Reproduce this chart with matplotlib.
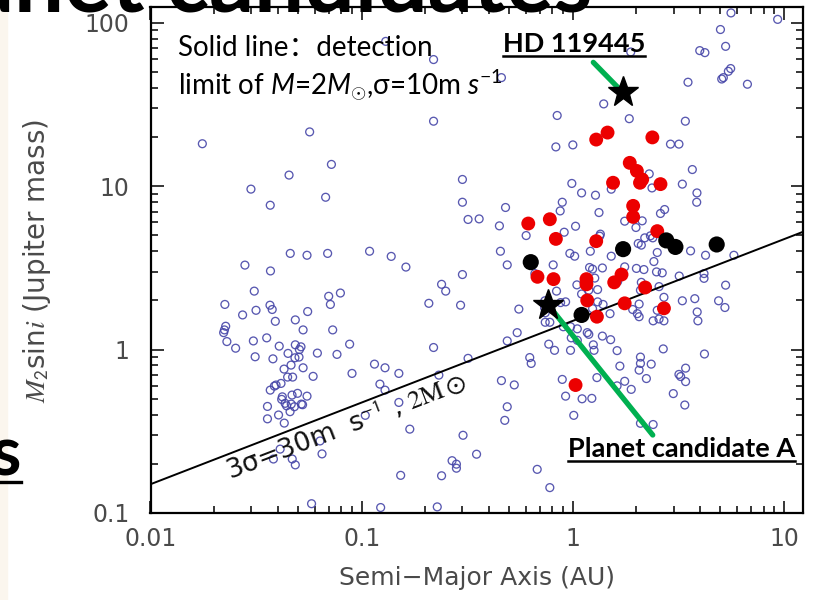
import matplotlib
matplotlib.use('Agg')
import matplotlib.pyplot as plt
from matplotlib.lines import Line2D
from matplotlib.patches import Rectangle
from matplotlib.ticker import FuncFormatter, NullFormatter, LogLocator

# open blue circles: known companions (semi-major axis in AU, M2 sin i in Jupiter masses)
blue_a = [0.0176, 0.0567, 0.0719, 0.0453, 0.0299, 0.0369, 0.0675, 0.0459, 0.0551, 0.069,
          0.109, 0.13, 0.219, 0.459, 0.219, 0.843, 0.831, 1.0, 0.30, 0.989,
          1.10, 0.30, 0.48, 0.891, 0.871, 0.319, 0.36, 0.449, 0.601, 1.03,
          0.91, 0.138, 0.454, 0.968, 1.02, 5.61, 9.33, 5.0, 5.29, 3.99,
          4.22, 1.88, 5.59, 5.45, 5.16, 5.07, 6.71, 3.51, 1.40, 1.85,
          3.41, 2.90, 3.18, 3.68, 2.30, 3.30, 2.37, 1.52, 3.87, 3.86,
          1.28, 1.33, 2.72, 2.60, 1.76, 2.13, 1.99, 1.35, 1.34, 2.19,
          2.33, 2.39, 2.04, 2.11, 1.21, 1.52, 2.51, 3.61, 4.25, 5.79,
          0.489, 1.20, 1.24, 1.38, 1.76, 2.00, 2.17, 2.42, 2.49, 2.65,
          3.19, 4.18, 4.18, 5.29, 0.807, 0.661, 1.10, 1.045, 1.27, 1.31,
          1.63, 2.11, 2.56, 2.09, 2.70, 3.30, 3.78, 3.88, 3.91, 4.90,
          5.25, 0.555, 0.737, 0.735, 0.74, 0.74, 0.778, 0.837, 0.924, 0.875,
          1.19, 1.31, 1.39, 1.24, 1.50, 2.06, 1.92, 2.02, 2.06, 2.40,
          2.70, 2.56, 2.51, 0.901, 0.975, 1.05, 1.17, 1.19, 0.545, 0.489,
          0.983, 1.05, 1.38, 1.51, 1.25, 1.26, 0.769, 0.819, 0.975, 1.62,
          2.68, 4.20, 0.625, 0.635, 2.09, 2.09, 2.06, 2.35, 1.67, 1.30,
          2.23, 3.18, 3.24, 3.42, 3.42, 0.891, 0.459, 0.528, 1.76, 1.62,
          1.89, 2.99, 3.39, 0.924, 1.106, 1.23, 0.489, 0.476, 1.01, 2.09,
          2.40, 0.162, 0.30, 0.239, 0.25, 0.208, 0.294, 0.219, 0.319, 0.115,
          0.129, 0.150, 0.232, 0.122, 0.129, 0.150, 0.169, 0.302, 0.35, 0.268,
          0.281, 0.281, 0.153, 0.239, 0.678, 0.778, 0.123, 0.228, 0.028, 0.037,
          0.031, 0.0225, 0.0273, 0.0316, 0.0368, 0.0377, 0.039, 0.0555, 0.0485, 0.0528,
          0.0698, 0.0711, 0.0793, 0.0729, 0.0227, 0.0224, 0.0222, 0.023, 0.0253, 0.0307,
          0.0355, 0.0407, 0.0313, 0.038, 0.0485, 0.0507, 0.0516, 0.0505, 0.0483, 0.0448,
          0.0617, 0.0764, 0.0877, 0.090, 0.0589, 0.0429, 0.0463, 0.0446, 0.0471, 0.0528,
          0.0415, 0.0393, 0.0386, 0.0369, 0.0497, 0.0551, 0.0421, 0.0418, 0.0434, 0.0441,
          0.0464, 0.048, 0.0468, 0.0518, 0.0525, 0.0358, 0.0458, 0.0404, 0.0358, 0.043,
          0.104, 0.0411, 0.0635, 0.0649, 0.0382, 0.0469, 0.0485, 0.0579]
blue_m = [18.2, 21.5, 13.6, 11.7, 9.6, 7.65, 8.56, 3.88, 3.78, 3.88,
          4.0, 77, 59.6, 46.2, 25.0, 27.1, 17.4, 17.9, 11.0, 10.4,
          9.1, 7.98, 7.41, 7.98, 7.06, 6.26, 6.31, 5.72, 4.99, 5.69,
          5.23, 3.72, 4.0, 3.88, 3.73, 115, 105, 91, 71.8, 67.6,
          65.7, 66.3, 52.5, 50.5, 46.2, 45.3, 42.1, 43.3, 31.9, 25.9,
          25.0, 18.1, 18.1, 12.65, 11.9, 10.3, 9.76, 9.59, 9.10, 7.98,
          8.81, 6.90, 7.20, 6.81, 6.11, 6.14, 5.59, 5.09, 4.95, 4.83,
          4.97, 4.83, 4.46, 4.36, 4.0, 3.73, 3.93, 4.02, 3.78, 3.78,
          3.30, 3.18, 3.11, 3.16, 3.21, 3.14, 3.09, 3.46, 2.99, 2.95,
          2.82, 2.92, 2.73, 2.48, 3.30, 2.92, 2.19, 2.49, 2.74, 2.33,
          2.61, 2.58, 2.43, 2.31, 2.09, 1.99, 2.05, 1.70, 1.50, 1.99,
          1.81, 1.77, 1.99, 1.80, 1.68, 1.47, 1.47, 2.28, 1.96, 1.94,
          2.31, 1.96, 1.89, 1.78, 1.66, 1.90, 1.76, 1.66, 1.59, 1.50,
          1.50, 1.54, 1.74, 1.38, 1.38, 1.34, 1.27, 1.24, 1.27, 1.13,
          1.18, 1.14, 1.21, 1.15, 1.07, 0.99, 1.08, 0.99, 0.99, 0.986,
          1.01, 0.94, 0.894, 0.823, 0.90, 0.823, 0.749, 0.815, 0.793, 0.674,
          0.665, 0.705, 0.684, 0.77, 0.637, 0.657, 0.646, 0.608, 0.64, 0.60,
          0.571, 0.538, 0.458, 0.519, 0.50, 0.503, 0.447, 0.369, 0.396, 0.354,
          0.348, 3.20, 2.88, 2.51, 2.28, 1.92, 1.87, 1.03, 0.884, 0.815,
          0.774, 0.715, 0.698, 0.615, 0.565, 0.475, 0.326, 0.299, 0.229, 0.209,
          0.199, 0.188, 0.170, 0.169, 0.185, 0.143, 0.108, 0.109, 3.29, 3.03,
          2.28, 1.89, 1.63, 1.74, 1.87, 1.76, 1.49, 1.71, 1.52, 1.32,
          2.12, 1.89, 2.22, 1.32, 1.39, 1.32, 1.27, 1.12, 1.02, 1.13,
          1.18, 1.05, 0.904, 0.878, 1.07, 1.0, 1.04, 0.90, 0.891, 0.948,
          0.952, 0.935, 1.08, 0.715, 0.686, 0.76, 0.804, 0.679, 0.679, 0.774,
          0.621, 0.607, 0.598, 0.565, 0.54, 0.519, 0.514, 0.496, 0.469, 0.453,
          0.464, 0.447, 0.527, 0.464, 0.46, 0.449, 0.417, 0.398, 0.377, 0.355,
          0.396, 0.246, 0.276, 0.23, 0.214, 0.214, 0.197, 0.114]

# red filled circles
red_a = [0.615, 0.778, 0.831, 1.29, 1.46, 2.38, 1.86, 2.01, 2.13, 2.08,
         1.55, 2.60, 1.93, 1.93, 2.51, 1.29, 0.68, 0.81, 1.16, 1.16,
         1.70, 1.57, 2.20, 1.17, 1.76, 2.70, 1.30, 1.03]
red_m = [5.91, 6.28, 4.76, 19.3, 21.3, 19.9, 13.9, 12.4, 11.0, 10.5,
         10.5, 10.3, 7.58, 6.49, 5.31, 4.61, 2.79, 2.70, 2.70, 2.51,
         2.88, 2.58, 2.40, 2.00, 1.92, 1.79, 1.59, 0.607]

# black filled circles
black_a = [0.632, 1.73, 2.77, 3.06, 4.80, 1.10]
black_m = [3.43, 4.12, 4.66, 4.25, 4.40, 1.63]

# stars: HD 119445 and planet candidate A
star_a = [1.72, 0.766]
star_m = [37.6, 1.87]

# detection limit line, 3 sigma = 30 m/s, 2 Msun
limit_a = [0.01, 12.3]
limit_m = [0.15, 5.26]

# ends of the green pointers
hd_tail = (1.25, 57.3)
a_tail = (2.39, 0.30)

W, H = 813, 600
GREEN = '#00b050'
GREY = '#4a4a4a'

plt.rcParams['mathtext.fontset'] = 'custom'
plt.rcParams['mathtext.rm'] = 'Lato'
plt.rcParams['mathtext.it'] = 'Lato:italic'
plt.rcParams['mathtext.bf'] = 'Lato:bold'


def fpos(x, y):
    return x / W, 1 - y / H


fig = plt.figure(figsize=(W / 100, H / 100), dpi=100)
fig.patch.set_facecolor('white')
fig.add_artist(Rectangle((0, 0), 7 / W, 1, transform=fig.transFigure,
                         color='#fbf6ee', zorder=-5))

ax = fig.add_axes([150.5 / W, 87 / H, 652.5 / W, 506 / H])
ax.set_xscale('log')
ax.set_yscale('log')
ax.set_xlim(0.01, 12.3)
ax.set_ylim(0.1, 125)

ax.scatter(blue_a, blue_m, s=32, facecolors='none', edgecolors='#4646a8',
           linewidths=0.95, alpha=0.9, zorder=2)
ax.plot(limit_a, limit_m, color='black', lw=1.4, zorder=3)
ax.scatter(red_a, red_m, s=100, color='#ec0000', edgecolors='none', zorder=4)
ax.scatter(black_a, black_m, s=135, color='black', edgecolors='none', zorder=4)

ax.annotate('', xy=(star_a[0], star_m[0]), xytext=hd_tail,
            arrowprops=dict(arrowstyle='-', color=GREEN, lw=3.8, shrinkA=0, shrinkB=0),
            zorder=5)
ax.annotate('', xy=(star_a[1], star_m[1]), xytext=a_tail,
            arrowprops=dict(arrowstyle='-', color=GREEN, lw=3.8, shrinkA=0, shrinkB=0),
            zorder=5)
ax.plot(star_a, star_m, '*', ms=23, color='black', zorder=6)

ax.text(0.0239, 0.159, r'3σ=30m  s$^{\mathsf{-1}}$ , $\mathrm{2M}\odot$',
        rotation=21, rotation_mode='anchor', fontsize=19, family='DejaVu Sans',
        math_fontfamily='stix', color='#111111', zorder=3)

for side in ax.spines.values():
    side.set_linewidth(1.6)
ax.tick_params(which='both', direction='in', top=True, right=True, colors='black',
               labelcolor=GREY, labelsize=17, width=1.1)
ax.tick_params(which='major', length=9)
ax.tick_params(which='minor', length=5)
ax.tick_params(axis='x', which='major', pad=10)
ax.tick_params(axis='y', which='major', pad=15)
ax.xaxis.set_major_locator(LogLocator(base=10))
ax.yaxis.set_major_locator(LogLocator(base=10))
ax.xaxis.set_major_formatter(FuncFormatter(lambda v, p: f'{v:g}'))
ax.yaxis.set_major_formatter(FuncFormatter(lambda v, p: f'{v:g}'))
ax.xaxis.set_minor_formatter(NullFormatter())
ax.yaxis.set_minor_formatter(NullFormatter())

fig.text(*fpos(477, 578), 'Semi−Major Axis (AU)', ha='center', va='center',
         fontsize=18, color=GREY)
fig.text(*fpos(37, 261), r'$M_{\mathsf{2}}$sin$i$ (Jupiter mass)', rotation=90,
         ha='center', va='center', fontsize=20, color=GREY,
         family='DejaVu Sans', math_fontfamily='stix')

# slide texts
fig.text(*fpos(178, 56), 'Solid line：detection', fontsize=20, va='baseline',
         family=['Lato', 'Noto Sans CJK SC'])
fig.text(*fpos(178, 95), r'limit of $M$=2$M_{\odot}$,σ=10m $s^{\mathrm{-1}}$',
         fontsize=20, va='baseline', family=['Lato', 'DejaVu Sans'])
hd = fig.text(*fpos(503, 52), 'HD 119445', fontsize=19.5, fontweight='bold',
              va='baseline', family='Lato')
pa = fig.text(*fpos(795, 457), 'Planet candidate A', fontsize=19.5, fontweight='bold',
              va='baseline', ha='right', family='Lato')
fig.text(*fpos(592, 11), 'Planet candidates', fontsize=64, fontweight='bold',
         va='baseline', ha='right', family='Lato', zorder=10)
fig.text(*fpos(21, 475), 's', fontsize=50, fontweight='bold', va='baseline',
         ha='right', family='Lato', zorder=10)

fig.canvas.draw()
r = fig.canvas.get_renderer()
for t, y in [(hd, 56), (pa, 461)]:
    bb = t.get_window_extent(r)
    fig.add_artist(Line2D([bb.x0 / W, bb.x1 / W], [1 - y / H] * 2,
                          transform=fig.transFigure, color='black', lw=1.8))
fig.add_artist(Line2D([0, 21 / W], [1 - 482 / H] * 2, transform=fig.transFigure,
                      color='black', lw=2.4))

fig.savefig('out.png', dpi=100)
